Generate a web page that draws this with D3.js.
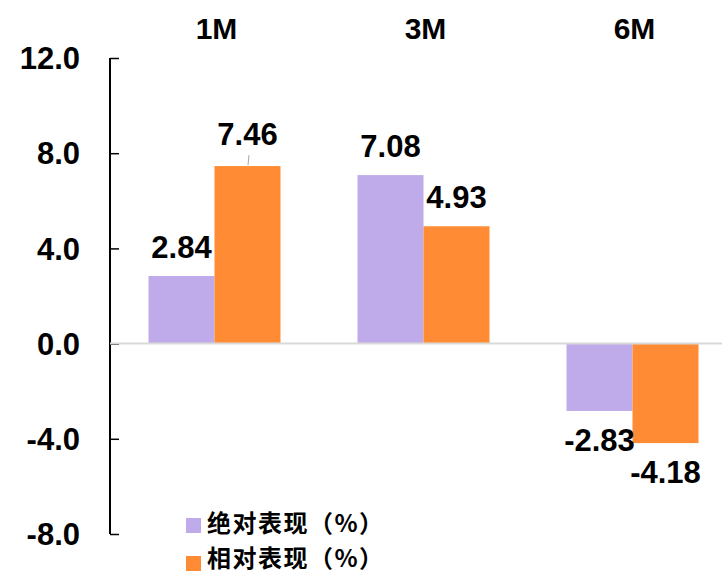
<!DOCTYPE html>
<html>
<head>
<meta charset="utf-8">
<script src="https://cdn.jsdelivr.net/npm/d3@7"></script>
<style>
  html, body { margin: 0; padding: 0; background: #ffffff; }
  svg { display: block; }
  text { font-family: "Liberation Sans", Arial, sans-serif; font-weight: bold; fill: #000; }
  .cjk { font-family: "Noto Sans CJK SC", "Liberation Sans", sans-serif; font-weight: bold; }
</style>
</head>
<body>
<svg id="chart" width="722" height="574"></svg>
<script>
// Periods and performance series (%)
const categories = ["1M", "3M", "6M"];
const seriesNames = ["绝对表现（%）", "相对表现（%）"];
const absolutePerf = [2.84, 7.08, -2.83];
const relativePerf = [7.46, 4.93, -4.18];
const yTicks = [12, 8, 4, 0, -4, -8];

const colors = ["#BFABE9", "#FF8C34"];

const svg = d3.select("#chart");
const W = 722, H = 574;

// plain hyphen for negatives
const fmt1 = v => d3.format(".1f")(v).replace("\u2212", "-");
const fmt2 = v => d3.format(".2f")(v).replace("\u2212", "-");

const x = d3.scaleBand().domain(categories).range([110, 737]).padding(0);
const groupWidth = 132;
const xSub = d3.scaleBand().domain([0, 1]).range([0, groupWidth]).padding(0);
const y = d3.scaleLinear().domain([-8, 12]).range([534, 58]);

const rows = categories.map((c, i) => ({
  cat: c,
  vals: [absolutePerf[i], relativePerf[i]]
}));

// Y axis with inward ticks
const yAxis = d3.axisRight(y).tickValues(yTicks).tickSize(9).tickFormat("");
const gy = svg.append("g").attr("transform", "translate(110,0)").call(yAxis);
gy.select(".domain").attr("stroke", "#000").attr("stroke-width", 2).attr("d", `M0,${y(12)}V${y(-8)}`);
gy.selectAll(".tick line").attr("stroke", "#000").attr("stroke-width", 1.5);

// Y tick labels
svg.append("g").selectAll("text").data(yTicks).join("text")
  .attr("x", 80)
  .attr("y", d => y(d))
  .attr("dy", "0.36em")
  .attr("text-anchor", "end")
  .style("font-size", "31px")
  .text(fmt1);

// Category labels on top
svg.append("g").selectAll("text").data(categories).join("text")
  .attr("x", d => x(d) + x.bandwidth() / 2 + 2)
  .attr("y", 39)
  .attr("text-anchor", "middle")
  .style("font-size", "30px")
  .text(d => d);

// Bars
const groups = svg.append("g").selectAll("g").data(rows).join("g")
  .attr("transform", d => `translate(${x(d.cat) + (x.bandwidth() - groupWidth) / 2},0)`);

groups.selectAll("rect").data(d => d.vals.map((v, k) => ({ v, k }))).join("rect")
  .attr("x", d => xSub(d.k))
  .attr("width", xSub.bandwidth())
  .attr("y", d => y(Math.max(0, d.v)))
  .attr("height", d => Math.abs(y(d.v) - y(0)))
  .attr("fill", d => colors[d.k]);

// Zero line
svg.append("line")
  .attr("x1", 110).attr("x2", W)
  .attr("y1", y(0)).attr("y2", y(0))
  .attr("stroke", "#D9D9D9").attr("stroke-width", 2);

// Value labels
const labelGap = 18;
const lifted = { "1M-1": 21 }; // label moved up, joined to its bar by a leader line
groups.each(function (row) {
  const g = d3.select(this);
  row.vals.forEach((v, k) => {
    const cx = xSub(k) + xSub.bandwidth() / 2;
    const key = row.cat + "-" + k;
    if (v >= 0) {
      const top = y(v);
      const extra = lifted[key] || 0;
      g.append("text")
        .attr("x", cx)
        .attr("y", extra ? top - extra : top - labelGap)
        .attr("text-anchor", "middle")
        .style("font-size", "31px")
        .text(fmt2(v));
      if (extra) {
        g.append("line")
          .attr("x1", cx + 1.5).attr("y1", top - 11)
          .attr("x2", cx + 0.5).attr("y2", top - 1)
          .attr("stroke", "#A6A6A6").attr("stroke-width", 1);
      }
    } else {
      g.append("text")
        .attr("x", cx)
        .attr("y", y(v) + 40)
        .attr("text-anchor", "middle")
        .style("font-size", "31px")
        .text(fmt2(v));
    }
  });
});

// Legend
const legend = svg.append("g");
seriesNames.forEach((name, k) => {
  const ly = 518 + k * 38;
  legend.append("rect")
    .attr("x", 186).attr("y", ly)
    .attr("width", 15).attr("height", 15)
    .attr("fill", colors[k]);
  legend.append("text")
    .attr("class", "cjk")
    .attr("x", 207).attr("y", 532 + k * 35)
    .style("font-size", "24px")
    .style("letter-spacing", "1.5px")
    .text(name);
});
</script>
</body>
</html>
